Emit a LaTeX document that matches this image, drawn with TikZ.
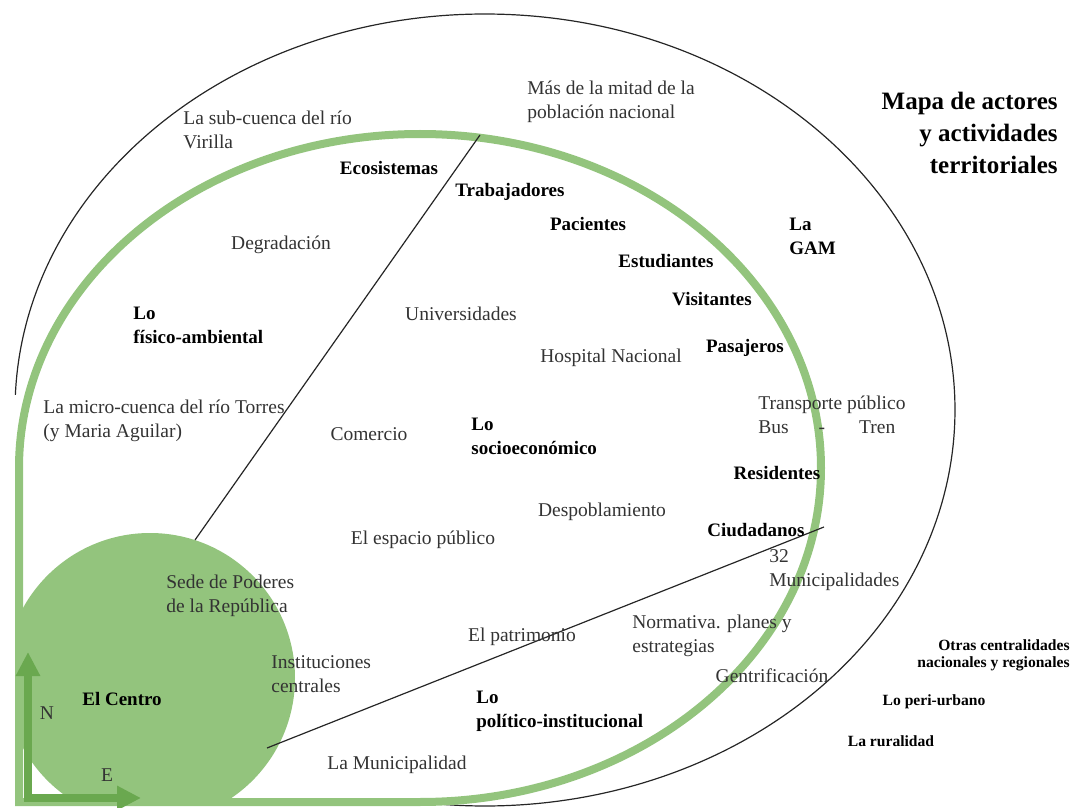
\documentclass[tikz,border=0pt]{standalone}
\usepackage{fontspec}
\setmainfont{Liberation Serif}
\usetikzlibrary{arrows.meta}
\definecolor{dropgreen}{HTML}{93C47D}
\definecolor{compassgreen}{HTML}{6AA84F}
\newcommand{\gotapath}{(19,802) -- (19,468) arc[start angle=180, end angle=450, x radius=401, y radius=334] -- cycle}
\begin{document}
\begin{tikzpicture}[x=0.5pt, y=-0.5pt,
    lbl/.style={font=\fontsize{9.75}{12}\selectfont, text=black!80, inner sep=0pt},
    actor/.style={font=\fontsize{9.5}{12}\selectfont\bfseries, inner sep=0pt},
    small/.style={font=\fontsize{7.8}{8.5}\selectfont\bfseries, inner sep=0pt},
    divider/.style={black!85, line width=0.6pt},
    compass/.style={compassgreen, line width=4pt, {Triangle[length=12pt,width=11.5pt]}-{Triangle[length=12pt,width=11.5pt]}}]
    \useasboundingbox (0,0) rectangle (1073,808);
    \clip (0,0) rectangle (1073,808);

    % rings
    \draw[black!85, line width=0.6pt] (485,410) ++(182.2:470 and 396) arc[start angle=182.2, end angle=455, x radius=470, y radius=396];
    \begin{scope}
      \clip \gotapath;
      \fill[dropgreen] (150,678) circle [radius=145];
    \end{scope}
    \draw[dropgreen, line width=4pt] \gotapath;

    \coordinate (fisTop) at (480,135);
    \coordinate (fisBot) at (195,540);
    \coordinate (polTop) at (824,527);
    \coordinate (polBot) at (267,748);
    \draw[divider] (fisBot) -- (fisTop);
    \draw[divider] (polBot) -- (polTop);

    \coordinate (north) at (28,652);
    \coordinate (east) at (141,798);
    \draw[compass] (north) |- (east);
    \node[lbl] (n) at (47,713) {N};
    \node[lbl] (e) at (107,775) {E};

    \node[actor] (centro) at (122,699) {El Centro};
    \node[lbl, anchor=west, align=left] (subcuenca) at (183,130) {La sub-cuenca del río\\Virilla};
    \node[lbl, anchor=west, align=left] (poblacion) at (527,102) {Más de la mitad de la\\población nacional};
    \node[anchor=east, align=right, font=\fontsize{12.5}{16}\selectfont\bfseries, inner sep=0pt] (titulo) at (1058,133) {Mapa de actores\\y actividades\\territoriales};
    \node[actor] (ecosistemas) at (389,168) {Ecosistemas};
    \node[actor] (trabajadores) at (510,192) {Trabajadores};
    \node[actor] (pacientes) at (588,224) {Pacientes};
    \node[actor] (estudiantes) at (666,261) {Estudiantes};
    \node[actor] (visitantes) at (712,299) {Visitantes};
    \node[actor] (pasajeros) at (745,348) {Pasajeros};
    \node[actor, anchor=west, align=left] (gam) at (789,236) {La\\GAM};
    \node[lbl] (degradacion) at (281,245) {Degradación};
    \node[actor, anchor=west, align=left] (fisico) at (133,325) {Lo\\físico-ambiental};
    \node[lbl] (universidades) at (461,314) {Universidades};
    \node[lbl] (hospital) at (611,358) {Hospital Nacional};
    \node[lbl, anchor=west, align=left] (microcuenca) at (43,421) {La micro-cuenca del río Torres\\(y Maria Aguilar)};
    \node[lbl] (comercio) at (369,434) {Comercio};
    \node[actor, anchor=west, align=left] (socio) at (471,436) {Lo\\socioeconómico};
    \node[lbl, anchor=west, align=left] (transporte) at (758,415) {Transporte público\\Bus\hspace{15pt}-\hspace{17pt}Tren};
    \node[actor] (residentes) at (777,473) {Residentes};
    \node[lbl] (despoblamiento) at (602,512) {Despoblamiento};
    \node[actor] (ciudadanos) at (756,530) {Ciudadanos};
    \node[lbl] (espacio) at (423,540) {El espacio público};
    \node[lbl, anchor=west, align=left] (municipios) at (769,570) {32\\Municipalidades};
    \node[lbl, anchor=west, align=left] (sede) at (166,596) {Sede de Poderes\\de la República};
    \node[lbl] (patrimonio) at (522,637) {El patrimonio};
    \node[lbl, anchor=west, align=left] (normativa) at (632,636) {Normativa. planes y\\estrategias};
    \node[lbl, anchor=west, align=left] (instituciones) at (271,674) {Instituciones\\centrales};
    \node[lbl] (gentrificacion) at (772,676) {Gentrificación};
    \node[small, anchor=east, align=right] (otras) at (1070,655) {Otras centralidades\\nacionales y regionales};
    \node[small] (periurbano) at (934,702) {Lo peri-urbano};
    \node[small] (ruralidad) at (891,741) {La ruralidad};
    \node[actor, anchor=west, align=left] (politico) at (476,711) {Lo\\político-institucional};
    \node[lbl] (municipalidad) at (397,765) {La Municipalidad};
  \end{tikzpicture}
\end{document}
